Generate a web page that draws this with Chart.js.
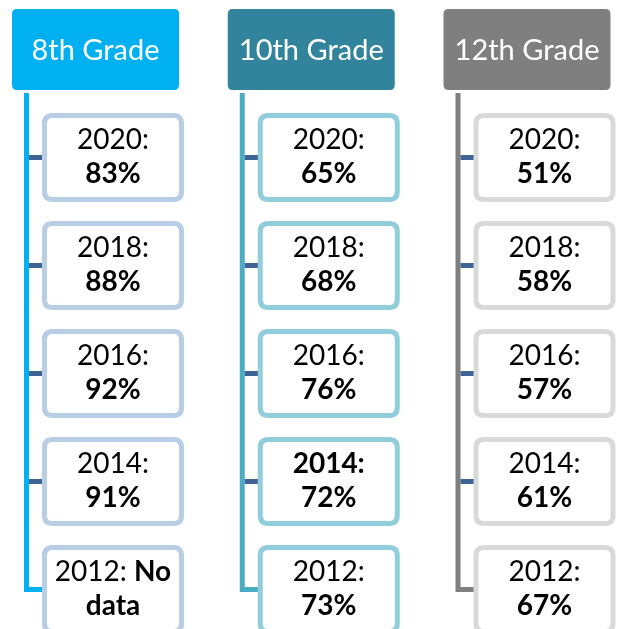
<!DOCTYPE html>
<html>
<head>
<meta charset="utf-8">
<script src="https://cdn.jsdelivr.net/npm/chart.js@4"></script>
<style>
  html, body { margin: 0; padding: 0; background: #ffffff; }
  #wrap { width: 619px; height: 629px; position: relative; }
</style>
</head>
<body>
<div id="wrap"><canvas id="c"></canvas></div>
<script>
// ---- data ----
const grades = ['8th Grade', '10th Grade', '12th Grade'];
const years = ['2020', '2018', '2016', '2014', '2012'];
const grade8 = [83, 88, 92, 91, null];
const grade10 = [65, 68, 76, 72, 73];
const grade12 = [51, 58, 57, 61, 67];
const boldYear10 = ['2014'];
const missingText = 'No data';

const seriesValues = [grade8, grade10, grade12];

// ---- styles ----
const headerColors = ['#00b0f0', '#31849b', '#7f7f7f'];
const lineColors = ['#00b0f0', '#4bacc6', '#7f7f7f'];
const borderColors = ['#b9cde5', '#92cddc', '#d9d9d9'];
const connectorColor = '#3e6496';
const COL_SPACING = 215.75, FIRST_COL = 95.5;
const ROW_SPACING = 108, HEADER_ROW = 49.5;
const W = 619, H = 629;

const xMin = -FIRST_COL / COL_SPACING, xMax = xMin + W / COL_SPACING;
const yMin = -HEADER_ROW / ROW_SPACING, yMax = yMin + H / ROW_SPACING;

function rr(ctx, x, y, w, h, r) {
  ctx.beginPath();
  ctx.moveTo(x + r, y);
  ctx.lineTo(x + w - r, y);
  ctx.quadraticCurveTo(x + w, y, x + w, y + r);
  ctx.lineTo(x + w, y + h - r);
  ctx.quadraticCurveTo(x + w, y + h, x + w - r, y + h);
  ctx.lineTo(x + r, y + h);
  ctx.quadraticCurveTo(x, y + h, x, y + h - r);
  ctx.lineTo(x, y + r);
  ctx.quadraticCurveTo(x, y, x + r, y);
  ctx.closePath();
}

const FONT = 'Lato, "Open Sans", sans-serif';

function drawParts(ctx, parts, cx, baseline) {
  let total = 0;
  parts.forEach(p => { ctx.font = (p.bold ? 'bold ' : '') + '28px ' + FONT; p.w = ctx.measureText(p.t).width; total += p.w; });
  let x = cx - total / 2;
  ctx.textAlign = 'left';
  ctx.textBaseline = 'alphabetic';
  parts.forEach(p => { ctx.font = (p.bold ? 'bold ' : '') + '28px ' + FONT; ctx.fillText(p.t, x, baseline); x += p.w; });
}

const diagramPlugin = {
  id: 'diagram',
  afterDatasetsDraw(chart) {
    const ctx = chart.ctx;
    const xs = chart.scales.x, ys = chart.scales.y;
    ctx.save();
    grades.forEach((g, gi) => {
      const cx = xs.getPixelForValue(gi);
      const cy = ys.getPixelForValue(0);
      const pts = chart.getDatasetMeta(gi).data;
      const lineX = cx - 69;
      const boxOff = 17.5;
      const last = pts[pts.length - 1];
      // vertical line + elbow
      ctx.strokeStyle = lineColors[gi];
      ctx.lineWidth = 5;
      ctx.lineJoin = 'miter';
      ctx.beginPath();
      ctx.moveTo(lineX, cy + 43.5);
      ctx.lineTo(lineX, last.y);
      ctx.lineTo(last.x + boxOff - 71 + 2, last.y);
      ctx.stroke();
      // connectors
      ctx.strokeStyle = connectorColor;
      pts.slice(0, -1).forEach(p => {
        ctx.beginPath();
        ctx.moveTo(lineX + 2.5, p.y);
        ctx.lineTo(p.x + boxOff - 71 + 2, p.y);
        ctx.stroke();
      });
      // header
      ctx.fillStyle = headerColors[gi];
      rr(ctx, cx - 83.5, cy - 40.5, 167, 81, 5);
      ctx.fill();
      ctx.fillStyle = '#ffffff';
      ctx.font = '29px ' + FONT;
      ctx.textAlign = 'center';
      ctx.textBaseline = 'alphabetic';
      ctx.fillText(g, cx, cy + 10);
      // boxes
      pts.forEach((p, i) => {
        const bx = p.x + boxOff;
        ctx.fillStyle = '#ffffff';
        ctx.strokeStyle = borderColors[gi];
        ctx.lineWidth = 5;
        rr(ctx, bx - 71 + 2.5, p.y - 44.5 + 2.5, 137, 84, 8);
        ctx.fill();
        ctx.stroke();
        ctx.fillStyle = '#000000';
        const v = seriesValues[gi][i];
        const yr = years[i];
        if (v === null) {
          const words = missingText.split(' ');
          drawParts(ctx, [{t: yr + ': ', bold: false}, {t: words[0], bold: true}], bx, p.y - 8.5);
          drawParts(ctx, [{t: words.slice(1).join(' '), bold: true}], bx, p.y + 25.5);
        } else {
          const b = gi === 1 && boldYear10.includes(yr);
          drawParts(ctx, [{t: yr + ':', bold: b}], bx, p.y - 8.5);
          drawParts(ctx, [{t: v + '%', bold: true}], bx, p.y + 25.5);
        }
      });
    });
    ctx.restore();
  }
};

const datasets = grades.map((g, gi) => ({
  label: g,
  data: years.map((y, i) => ({ x: gi, y: i + 1 })),
  pointRadius: 0,
  pointHoverRadius: 0,
  showLine: false
}));

new Chart(document.getElementById('c'), {
  type: 'scatter',
  data: { datasets },
  options: {
    responsive: true,
    maintainAspectRatio: false,
    animation: false,
    events: [],
    layout: { padding: 0 },
    plugins: { legend: { display: false }, tooltip: { enabled: false } },
    scales: {
      x: { type: 'linear', min: xMin, max: xMax, display: false },
      y: { type: 'linear', min: yMin, max: yMax, reverse: true, display: false }
    }
  },
  plugins: [diagramPlugin]
});
</script>
</body>
</html>
